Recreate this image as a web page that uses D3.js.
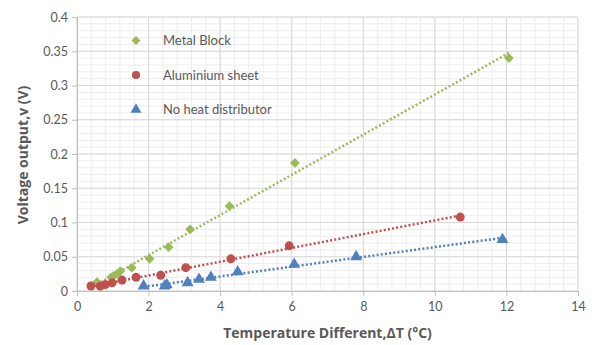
<!DOCTYPE html>
<html>
<head>
<meta charset="utf-8">
<script src="https://cdn.jsdelivr.net/npm/d3@7"></script>
<style>
  body { margin: 0; background: #fff; }
  svg { font-family: Lato, "Open Sans", sans-serif; }
</style>
</head>
<body>
<svg width="592" height="345"></svg>
<script>
// values
var seriesNames = ['Metal Block', 'Aluminium sheet', 'No heat distributor'];
var metalX = [0.56, 0.95, 1.02, 1.12, 1.21, 1.53, 2.03, 2.56, 3.16, 4.26, 6.09, 12.07];
var metalY = [0.013, 0.020, 0.022, 0.025, 0.029, 0.034, 0.047, 0.064, 0.090, 0.124, 0.187, 0.340];
var alumX = [0.39, 0.65, 0.79, 0.98, 1.26, 1.65, 2.34, 3.04, 4.30, 5.93, 10.71];
var alumY = [0.0073, 0.007, 0.0094, 0.012, 0.016, 0.020, 0.023, 0.034, 0.047, 0.066, 0.108];
var noneX = [1.86, 2.45, 2.51, 3.09, 3.41, 3.74, 4.49, 6.07, 7.80, 11.89];
var noneY = [0.0073, 0.0073, 0.009, 0.012, 0.017, 0.020, 0.028, 0.039, 0.050, 0.075];
var xTicks = [0, 2, 4, 6, 8, 10, 12, 14];
var yTicks = [0, 0.05, 0.1, 0.15, 0.2, 0.25, 0.3, 0.35, 0.4];

var colors = ['#9BBB59', '#C0504D', '#4F81BD'];
var shapes = [d3.symbolDiamond2, d3.symbolCircle, d3.symbolTriangle];
var sizes = [60, 62, 62];

var svg = d3.select('svg');
var m = {l: 77, r: 14, t: 17, b: 54};
var W = 592, H = 345;
var x = d3.scaleLinear().domain([0, 14]).range([m.l, W - m.r]);
var y = d3.scaleLinear().domain([0, 0.4]).range([H - m.b, m.t]);

var g = svg.append('g');

// minor grid
var minorX = d3.range(0, 14.001, 0.4);
var minorY = d3.range(0, 0.4001, 0.01);
g.selectAll('.mx').data(minorX).enter().append('line')
  .attr('x1', function(d){ return x(d); }).attr('x2', function(d){ return x(d); })
  .attr('y1', y(0)).attr('y2', y(0.4))
  .style('stroke', '#EDEDED').style('stroke-width', 1);
g.selectAll('.my').data(minorY).enter().append('line')
  .attr('y1', function(d){ return y(d); }).attr('y2', function(d){ return y(d); })
  .attr('x1', x(0)).attr('x2', x(14))
  .style('stroke', '#EDEDED').style('stroke-width', 1);

// major grid
g.selectAll('.gx').data(xTicks).enter().append('line')
  .attr('x1', function(d){ return x(d); }).attr('x2', function(d){ return x(d); })
  .attr('y1', y(0)).attr('y2', y(0.4))
  .style('stroke', '#D9D9D9').style('stroke-width', 1);
g.selectAll('.gy').data(yTicks).enter().append('line')
  .attr('y1', function(d){ return y(d); }).attr('y2', function(d){ return y(d); })
  .attr('x1', x(0)).attr('x2', x(14))
  .style('stroke', '#D9D9D9').style('stroke-width', 1);

// axes
var xAxis = d3.axisBottom(x).tickValues(xTicks).tickSize(5).tickPadding(6).tickFormat(d3.format('d'));
var yAxis = d3.axisLeft(y).tickValues(yTicks).tickSize(5).tickPadding(4).tickFormat(function(d){ return +d.toFixed(2); });
var gx = svg.append('g').attr('transform', 'translate(0,' + y(0) + ')').call(xAxis);
var gy = svg.append('g').attr('transform', 'translate(' + x(0) + ',0)').call(yAxis);
[gx, gy].forEach(function(a){
  a.select('.domain').style('stroke', '#BFBFBF');
  a.selectAll('.tick line').style('stroke', '#BFBFBF');
  a.selectAll('text').style('fill', '#595959').style('font-size', '12.5px').style('font-family', 'Lato, sans-serif');
});

// trend lines (least squares)
function fit(xs, ys){
  var n = xs.length, mx = d3.mean(xs), my = d3.mean(ys);
  var sxy = 0, sxx = 0;
  for (var i = 0; i < n; i++){ sxy += (xs[i]-mx)*(ys[i]-my); sxx += (xs[i]-mx)*(xs[i]-mx); }
  var b = sxy / sxx, a = my - b*mx;
  var x0 = d3.min(xs), x1 = d3.max(xs);
  return [[x0, a + b*x0], [x1, a + b*x1]];
}
var data = [[metalX, metalY], [alumX, alumY], [noneX, noneY]];
data.forEach(function(s, i){
  var pts = fit(s[0], s[1]);
  g.append('line')
    .attr('x1', x(pts[0][0])).attr('y1', y(pts[0][1]))
    .attr('x2', x(pts[1][0])).attr('y2', y(pts[1][1]))
    .style('stroke', colors[i]).style('stroke-width', 2.5)
    .style('stroke-dasharray', '2,2.2');
});

// markers
data.forEach(function(s, i){
  var sym = d3.symbol().type(shapes[i]).size(sizes[i]);
  g.selectAll('.p' + i).data(s[0]).enter().append('path')
    .attr('d', sym)
    .attr('transform', function(d, j){ return 'translate(' + x(d) + ',' + y(s[1][j]) + ')'; })
    .style('fill', colors[i]);
});

// legend
var lg = svg.append('g');
seriesNames.forEach(function(name, i){
  var ly = 40.5 + i * 34.5;
  lg.append('path').attr('d', d3.symbol().type(shapes[i]).size(sizes[i] * 0.85)())
    .attr('transform', 'translate(136,' + ly + ')').style('fill', colors[i]);
  lg.append('text').attr('x', 163).attr('y', ly + 4.5).text(name)
    .style('fill', '#595959').style('font-size', '13px');
});

// axis titles
svg.append('text').attr('x', (x(0) + x(14)) / 2).attr('y', 338)
  .attr('text-anchor', 'middle').text('Temperature Different,ΔT (°C)')
  .style('fill', '#595959').style('font-size', '14px').style('font-weight', 'bold')
  .style('font-family', '"Open Sans", sans-serif');
svg.append('text').attr('transform', 'translate(28,155) rotate(-90)')
  .attr('text-anchor', 'middle').text('Voltage output,v (V)')
  .style('fill', '#595959').style('font-size', '14px').style('font-weight', 'bold')
  .style('font-family', '"Open Sans", sans-serif');
</script>
</body>
</html>
